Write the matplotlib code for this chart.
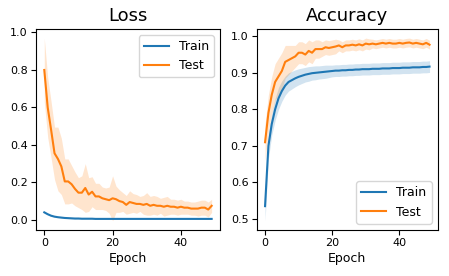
import numpy as np
import matplotlib
matplotlib.use('Agg')
import matplotlib.pyplot as plt

epochs = np.arange(50)

# Loss curves (mean and std)
train_loss = [0.040, 0.030, 0.022, 0.017, 0.014, 0.012, 0.010, 0.009, 0.008, 0.007,
              0.007, 0.006, 0.006, 0.006, 0.006, 0.005, 0.005, 0.005, 0.005, 0.005,
              0.005, 0.005, 0.005, 0.005, 0.005, 0.005, 0.005, 0.005, 0.005, 0.005,
              0.005, 0.005, 0.005, 0.005, 0.005, 0.005, 0.005, 0.005, 0.005, 0.005,
              0.005, 0.005, 0.005, 0.005, 0.005, 0.005, 0.005, 0.005, 0.005, 0.005]
train_loss_std = [0.004, 0.003, 0.003, 0.002, 0.002, 0.002, 0.002, 0.002, 0.002, 0.002] + [0.001] * 40
test_loss = [0.80, 0.60, 0.48, 0.355, 0.325, 0.285, 0.205, 0.205, 0.19, 0.165,
             0.145, 0.145, 0.17, 0.135, 0.15, 0.125, 0.125, 0.115, 0.11, 0.105,
             0.115, 0.11, 0.10, 0.095, 0.08, 0.095, 0.09, 0.085, 0.085, 0.08,
             0.085, 0.075, 0.08, 0.075, 0.075, 0.07, 0.075, 0.07, 0.07, 0.065,
             0.07, 0.065, 0.065, 0.06, 0.06, 0.06, 0.065, 0.065, 0.055, 0.075]
test_loss_std = [0.17, 0.16, 0.15, 0.14, 0.17, 0.15, 0.12, 0.12, 0.10, 0.09,
                 0.08, 0.09, 0.13, 0.09, 0.08, 0.07, 0.07, 0.06, 0.06, 0.07,
                 0.12, 0.07, 0.06, 0.05, 0.05, 0.06, 0.05, 0.05, 0.04, 0.05,
                 0.06, 0.05, 0.05, 0.05, 0.04, 0.05, 0.05, 0.04, 0.04, 0.04,
                 0.04, 0.035, 0.035, 0.035, 0.035, 0.04, 0.04, 0.04, 0.04, 0.035]

# Accuracy curves
train_acc = [0.535, 0.70, 0.76, 0.80, 0.83, 0.85, 0.865, 0.875, 0.88, 0.885,
             0.889, 0.892, 0.895, 0.897, 0.899, 0.900, 0.901, 0.902, 0.903, 0.904,
             0.905, 0.906, 0.906, 0.907, 0.907, 0.908, 0.908, 0.909, 0.909, 0.910,
             0.910, 0.910, 0.911, 0.911, 0.911, 0.912, 0.912, 0.912, 0.913, 0.913,
             0.913, 0.914, 0.914, 0.914, 0.915, 0.915, 0.915, 0.916, 0.916, 0.917]
train_acc_std = [0.04, 0.035, 0.03, 0.03, 0.03, 0.028, 0.026, 0.025, 0.024, 0.023,
                 0.022, 0.021, 0.02, 0.02, 0.019, 0.019, 0.018, 0.018, 0.018, 0.017] + [0.016] * 30
test_acc = [0.71, 0.79, 0.84, 0.875, 0.89, 0.905, 0.93, 0.935, 0.94, 0.945,
            0.955, 0.955, 0.95, 0.96, 0.955, 0.965, 0.965, 0.965, 0.97, 0.968,
            0.97, 0.972, 0.975, 0.97, 0.975, 0.975, 0.977, 0.975, 0.978, 0.975,
            0.98, 0.978, 0.98, 0.978, 0.98, 0.982, 0.98, 0.982, 0.98, 0.98,
            0.982, 0.98, 0.982, 0.983, 0.98, 0.982, 0.98, 0.978, 0.982, 0.977]
test_acc_std = [0.05, 0.05, 0.05, 0.05, 0.05, 0.05, 0.045, 0.04, 0.035, 0.03,
                0.03, 0.03, 0.03, 0.03, 0.03, 0.025, 0.025, 0.02, 0.02, 0.02,
                0.02, 0.02, 0.015, 0.015, 0.015, 0.015, 0.015, 0.015, 0.015, 0.015,
                0.015, 0.015, 0.012, 0.012, 0.012, 0.012, 0.012, 0.012, 0.012, 0.012,
                0.012, 0.012, 0.012, 0.012, 0.012, 0.012, 0.012, 0.012, 0.012, 0.012]

fig = plt.figure(figsize=(4.49, 2.76), dpi=100)
ax1 = fig.add_axes([0.080, 0.167, 0.410, 0.728])
ax2 = fig.add_axes([0.572, 0.167, 0.403, 0.728])


def draw(ax, series, title, loc):
    for mean, std, label in series:
        mean = np.array(mean)
        std = np.array(std)
        line, = ax.plot(epochs, mean, label=label, lw=1.5)
        ax.fill_between(epochs, mean - std, mean + std, color=line.get_color(), alpha=0.2, lw=0)
    ax.set_title(title, fontsize=13)
    ax.set_xlabel('Epoch', fontsize=9, labelpad=3)
    ax.tick_params(labelsize=8, pad=2.5, length=3.5)
    ax.legend(loc=loc, fontsize=9)


draw(ax1, [(train_loss, train_loss_std, 'Train'), (test_loss, test_loss_std, 'Test')], 'Loss', 'upper right')
draw(ax2, [(train_acc, train_acc_std, 'Train'), (test_acc, test_acc_std, 'Test')], 'Accuracy', 'lower right')
ax1.set_yticks([0.0, 0.2, 0.4, 0.6, 0.8, 1.0])

fig.savefig('out.png', dpi=100)
